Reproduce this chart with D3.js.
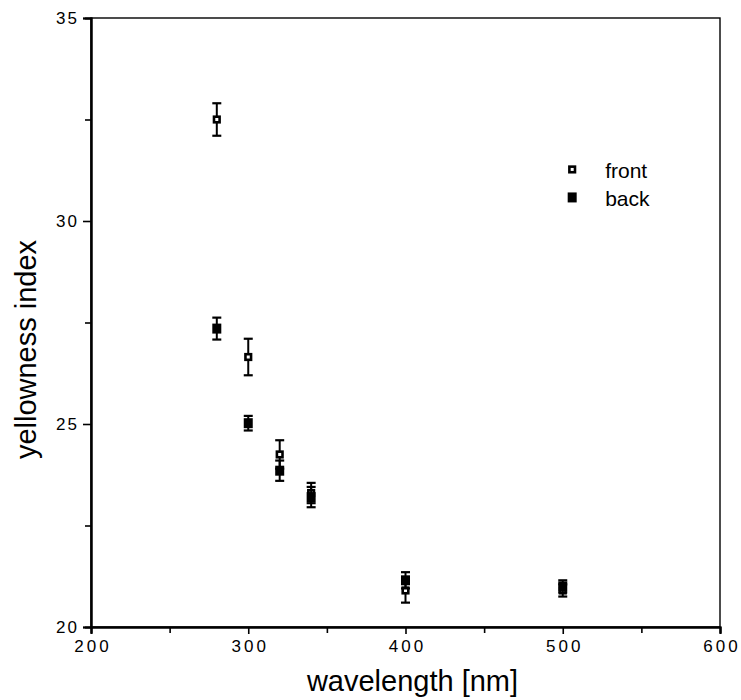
<!doctype html>
<html lang="en">
  <head>
    <meta charset="utf-8">
    <title>Yellowness index vs wavelength</title>
    <script src="https://d3js.org/d3.v7.min.js"></script>
    <style>
      body { margin: 0; background: #fff; }
      text { font-family: "Liberation Sans", Arial, sans-serif; fill: #000; }
    </style>
  </head>
  <body>
    <div id="chart"></div>
    <script>
      // wavelengths (nm) and the two measured series
      const wavelengths = [280, 300, 320, 340, 400, 500];
      const frontValues = [32.5, 26.65, 24.25, 23.3, 20.9, 20.9];
      const frontErrors = [0.4, 0.45, 0.35, 0.25, 0.3, 0.15];
      const backValues = [27.35, 25.02, 23.85, 23.2, 21.15, 21.0];
      const backErrors = [0.27, 0.18, 0.25, 0.25, 0.2, 0.15];
      const xTicks = [200, 300, 400, 500, 600];
      const xMinorTicks = [250, 350, 450, 550];
      const yTicks = [20, 25, 30, 35];
      const yMinorTicks = [22.5, 27.5, 32.5];
      const legendLabels = ["front", "back"];

      const margin = {top: 18, right: 21, bottom: 73, left: 91},
            width = 741 - margin.left - margin.right,
            height = 700 - margin.top - margin.bottom;

      const svg = d3.select("#chart")
        .append("svg")
        .attr("width", 741)
        .attr("height", 700)
        .append("g")
        .attr("transform", `translate(${margin.left}, ${margin.top})`);

      const x = d3.scaleLinear().domain([200, 600]).range([0, width]);
      const y = d3.scaleLinear().domain([20, 35]).range([height, 0]);

      // frame
      svg.append("rect")
        .attr("width", width)
        .attr("height", height)
        .attr("fill", "none")
        .attr("stroke", "#000")
        .attr("stroke-width", 1.4);

      // x axis
      const xAxis = svg.append("g")
        .attr("transform", `translate(0, ${height})`)
        .call(d3.axisBottom(x).tickValues(xTicks).tickSize(7).tickPadding(6)
          .tickFormat(d3.format("d")));
      xAxis.append("g")
        .call(d3.axisBottom(x).tickValues(xMinorTicks).tickSize(6).tickFormat(""));
      xAxis.selectAll(".domain").attr("stroke-width", 2);
      xAxis.selectAll("line").attr("stroke-width", 1.6);
      xAxis.selectAll("text")
        .attr("dx", "1.5px")
        .style("font-size", "17px")
        .style("letter-spacing", "3px");

      // y axis
      const yAxis = svg.append("g")
        .call(d3.axisLeft(y).tickValues(yTicks).tickSize(8).tickPadding(4));
      yAxis.append("g")
        .call(d3.axisLeft(y).tickValues(yMinorTicks).tickSize(6).tickFormat(""));
      yAxis.selectAll(".domain").attr("stroke-width", 2);
      yAxis.selectAll("line").attr("stroke-width", 1.6);
      yAxis.selectAll("text")
        .style("font-size", "17px")
        .style("letter-spacing", "2px");

      // axis titles
      svg.append("text")
        .attr("x", width / 2 + 7)
        .attr("y", height + 64)
        .attr("text-anchor", "middle")
        .style("font-size", "29px")
        .text("wavelength [nm]");

      svg.append("text")
        .attr("transform", "rotate(-90)")
        .attr("x", -(height / 2 + 27))
        .attr("y", -55)
        .attr("text-anchor", "middle")
        .style("font-size", "29px")
        .text("yellowness index");

      const series = [
        {name: "front", values: frontValues, errors: frontErrors, filled: false},
        {name: "back", values: backValues, errors: backErrors, filled: true}
      ];

      function drawMarker(g, cx, cy, filled) {
        if (filled) {
          g.append("rect")
            .attr("x", cx - 4.5).attr("y", cy - 5)
            .attr("width", 9).attr("height", 10)
            .attr("fill", "#000");
        } else {
          g.append("rect")
            .attr("x", cx - 2.8).attr("y", cy - 2.8)
            .attr("width", 5.6).attr("height", 5.6)
            .attr("fill", "#fff")
            .attr("stroke", "#000")
            .attr("stroke-width", 2.6);
        }
      }

      series.forEach(function (s) {
        const g = svg.append("g");
        wavelengths.forEach(function (w, i) {
          const cx = x(w);
          const top = y(s.values[i] + s.errors[i]);
          const bot = y(s.values[i] - s.errors[i]);
          g.append("line")
            .attr("x1", cx).attr("x2", cx)
            .attr("y1", top).attr("y2", bot)
            .attr("stroke", "#000").attr("stroke-width", 2);
          [top, bot].forEach(function (cy) {
            g.append("line")
              .attr("x1", cx - 4.5).attr("x2", cx + 4.5)
              .attr("y1", cy).attr("y2", cy)
              .attr("stroke", "#000").attr("stroke-width", 2.2);
          });
          drawMarker(g, cx, y(s.values[i]), s.filled);
        });
      });

      // legend
      const legend = svg.append("g").attr("transform", `translate(${x(506)}, ${y(31.27)})`);
      legendLabels.forEach(function (label, i) {
        drawMarker(legend, 0, i * 28, i === 1);
        legend.append("text")
          .attr("x", 33)
          .attr("y", i * 28 + 9)
          .style("font-size", "21px")
          .text(label);
      });
    </script>
  </body>
</html>
